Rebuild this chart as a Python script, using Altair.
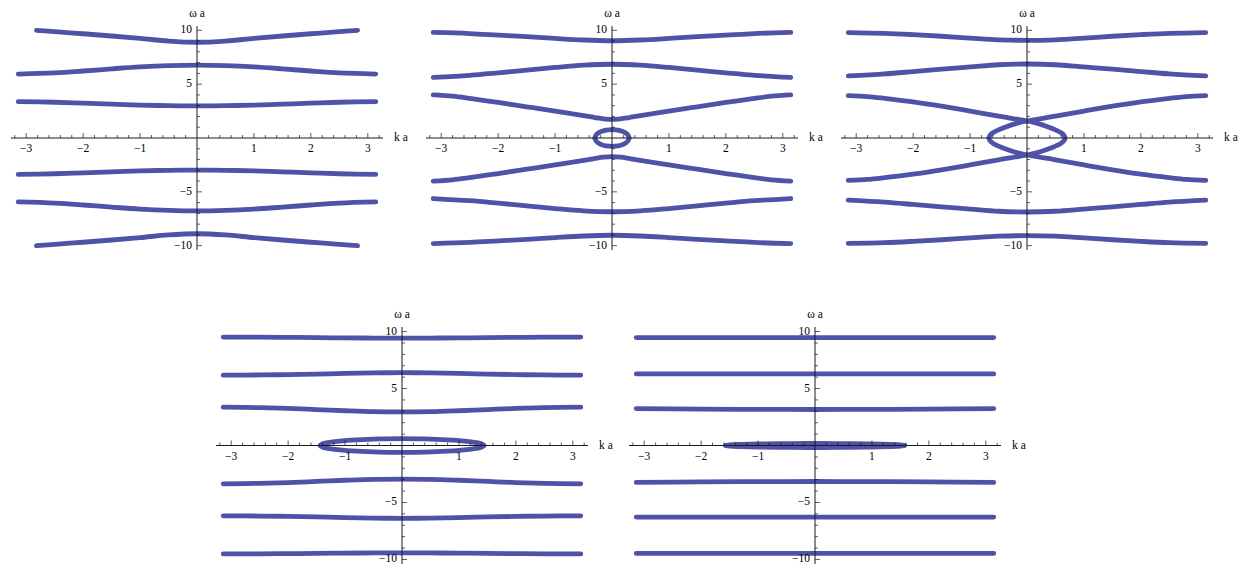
import altair as alt
import pandas as pd

FONT = "Liberation Serif"
LINE = "#4f53a8"
AXC = "#1a1a1a"
FS = 11.5
XR = 3.267
YR = 10.4

# ---------------- data ----------------
K13 = [-3.14, -2.5, -2.0, -1.5, -1.0, -0.5, 0.0, 0.5, 1.0, 1.5, 2.0, 2.5, 3.14]
K7 = [-3.14, -2.0, -1.0, 0.0, 1.0, 2.0, 3.14]

# Panel 1
p1_a_up = [3.38, 3.32, 3.23, 3.14, 3.05, 3.00, 2.98, 3.00, 3.05, 3.14, 3.23, 3.32, 3.38]
p1_a_dn = [-3.38, -3.32, -3.23, -3.14, -3.05, -3.00, -2.98, -3.00, -3.05, -3.14, -3.23, -3.32, -3.38]
p1_b_up = [5.94, 6.05, 6.22, 6.42, 6.60, 6.72, 6.77, 6.72, 6.60, 6.42, 6.22, 6.05, 5.94]
p1_b_dn = [-5.94, -6.05, -6.22, -6.42, -6.60, -6.72, -6.77, -6.72, -6.60, -6.42, -6.22, -6.05, -5.94]
p1_kc = [-2.82, -2.5, -2.0, -1.5, -1.0, -0.5, 0.0, 0.5, 1.0, 1.5, 2.0, 2.5, 2.82]
p1_c_up = [10.0, 9.87, 9.68, 9.47, 9.25, 9.00, 8.89, 9.00, 9.25, 9.47, 9.68, 9.87, 10.0]
p1_c_dn = [-10.0, -9.87, -9.68, -9.47, -9.25, -9.00, -8.89, -9.00, -9.25, -9.47, -9.68, -9.87, -10.0]

# Panel 2
p2_ka = [-3.14, -2.8, -2.5, -2.0, -1.5, -1.0, -0.5, -0.3, -0.15, 0.0,
         0.15, 0.3, 0.5, 1.0, 1.5, 2.0, 2.5, 2.8, 3.14]
p2_a_up = [4.00, 3.88, 3.68, 3.30, 2.90, 2.50, 2.08, 1.90, 1.78, 1.73,
           1.78, 1.90, 2.08, 2.50, 2.90, 3.30, 3.68, 3.88, 4.00]
p2_a_dn = [-4.00, -3.88, -3.68, -3.30, -2.90, -2.50, -2.08, -1.90, -1.78, -1.73,
           -1.78, -1.90, -2.08, -2.50, -2.90, -3.30, -3.68, -3.88, -4.00]
p2_b_up = [5.62, 5.82, 6.05, 6.30, 6.55, 6.76, 6.85, 6.76, 6.55, 6.30, 6.05, 5.82, 5.62]
p2_b_dn = [-5.62, -5.82, -6.05, -6.30, -6.55, -6.76, -6.85, -6.76, -6.55, -6.30, -6.05, -5.82, -5.62]
p2_c_up = [9.80, 9.70, 9.56, 9.42, 9.25, 9.10, 9.03, 9.10, 9.25, 9.42, 9.56, 9.70, 9.80]
p2_c_dn = [-9.80, -9.70, -9.56, -9.42, -9.25, -9.10, -9.03, -9.10, -9.25, -9.42, -9.56, -9.70, -9.80]
p2_kl = [-0.30, -0.28, -0.24, -0.18, -0.10, 0.0, 0.10, 0.18, 0.24, 0.28, 0.30]
p2_l_up = [0.0, 0.28, 0.47, 0.62, 0.74, 0.78, 0.74, 0.62, 0.47, 0.28, 0.0]
p2_l_dn = [0.0, -0.28, -0.47, -0.62, -0.74, -0.78, -0.74, -0.62, -0.47, -0.28, 0.0]

# Panel 3
p3_kr = [-3.14, -2.8, -2.5, -2.0, -1.5, -1.0, -0.5, 0.0, 0.2, 0.36, 0.5, 0.6, 0.65, 0.67,
         0.65, 0.6, 0.5, 0.36, 0.2, 0.0, -0.5, -1.0, -1.5, -2.0, -2.5, -2.8, -3.14]
p3_kl = [3.14, 2.8, 2.5, 2.0, 1.5, 1.0, 0.5, 0.0, -0.2, -0.36, -0.5, -0.6, -0.65, -0.67,
         -0.65, -0.6, -0.5, -0.36, -0.2, 0.0, 0.5, 1.0, 1.5, 2.0, 2.5, 2.8, 3.14]
p3_w = [3.94, 3.85, 3.68, 3.35, 2.95, 2.50, 2.03, 1.58, 1.33, 1.05, 0.76, 0.48, 0.25, 0.0,
        -0.25, -0.48, -0.76, -1.05, -1.33, -1.58, -2.03, -2.50, -2.95, -3.35, -3.68, -3.85, -3.94]
p3_b_up = [5.76, 5.95, 6.17, 6.40, 6.60, 6.80, 6.87, 6.80, 6.60, 6.40, 6.17, 5.95, 5.76]
p3_b_dn = [-5.76, -5.95, -6.17, -6.40, -6.60, -6.80, -6.87, -6.80, -6.60, -6.40, -6.17, -5.95, -5.76]
p3_c_up = [9.79, 9.72, 9.60, 9.45, 9.28, 9.12, 9.07, 9.12, 9.28, 9.45, 9.60, 9.72, 9.79]
p3_c_dn = [-9.79, -9.72, -9.60, -9.45, -9.28, -9.12, -9.07, -9.12, -9.28, -9.45, -9.60, -9.72, -9.79]

# Panel 4
p4_a_up = [3.36, 3.32, 3.25, 3.15, 3.05, 2.97, 2.95, 2.97, 3.05, 3.15, 3.25, 3.32, 3.36]
p4_a_dn = [-3.36, -3.32, -3.25, -3.15, -3.05, -2.97, -2.95, -2.97, -3.05, -3.15, -3.25, -3.32, -3.36]
p4_b_up = [6.17, 6.19, 6.22, 6.27, 6.33, 6.37, 6.39, 6.37, 6.33, 6.27, 6.22, 6.19, 6.17]
p4_b_dn = [-6.17, -6.19, -6.22, -6.27, -6.33, -6.37, -6.39, -6.37, -6.33, -6.27, -6.22, -6.19, -6.17]
p4_c_up = [9.52, 9.51, 9.49, 9.47, 9.44, 9.43, 9.42, 9.43, 9.44, 9.47, 9.49, 9.51, 9.52]
p4_c_dn = [-9.52, -9.51, -9.49, -9.47, -9.44, -9.43, -9.42, -9.43, -9.44, -9.47, -9.49, -9.51, -9.52]
p4_kl = [-1.44, -1.40, -1.30, -1.10, -0.80, -0.40, 0.0, 0.40, 0.80, 1.10, 1.30, 1.40, 1.44]
p4_l_up = [0.0, 0.14, 0.26, 0.39, 0.50, 0.58, 0.60, 0.58, 0.50, 0.39, 0.26, 0.14, 0.0]
p4_l_dn = [0.0, -0.14, -0.26, -0.39, -0.50, -0.58, -0.60, -0.58, -0.50, -0.39, -0.26, -0.14, 0.0]

# Panel 5
p5_a_up = [3.24, 3.20, 3.17, 3.16, 3.17, 3.20, 3.24]
p5_a_dn = [-3.24, -3.20, -3.17, -3.16, -3.17, -3.20, -3.24]
p5_b_up = [6.28, 6.28, 6.28, 6.28, 6.28, 6.28, 6.28]
p5_b_dn = [-6.28, -6.28, -6.28, -6.28, -6.28, -6.28, -6.28]
p5_c_up = [9.47, 9.47, 9.47, 9.47, 9.47, 9.47, 9.47]
p5_c_dn = [-9.47, -9.47, -9.47, -9.47, -9.47, -9.47, -9.47]
p5_kl = [-1.57, -1.50, -1.30, -0.90, -0.40, 0.0, 0.40, 0.90, 1.30, 1.50, 1.57]
p5_l_up = [0.0, 0.06, 0.10, 0.15, 0.17, 0.18, 0.17, 0.15, 0.10, 0.06, 0.0]
p5_l_dn = [0.0, -0.06, -0.10, -0.15, -0.17, -0.18, -0.17, -0.15, -0.10, -0.06, 0.0]

PANELS = {
    "p1": [("a+", K13, p1_a_up), ("a-", K13, p1_a_dn), ("b+", K13, p1_b_up),
           ("b-", K13, p1_b_dn), ("c+", p1_kc, p1_c_up), ("c-", p1_kc, p1_c_dn)],
    "p2": [("a+", p2_ka, p2_a_up), ("a-", p2_ka, p2_a_dn), ("b+", K13, p2_b_up),
           ("b-", K13, p2_b_dn), ("c+", K13, p2_c_up), ("c-", K13, p2_c_dn),
           ("l+", p2_kl, p2_l_up), ("l-", p2_kl, p2_l_dn)],
    "p3": [("r", p3_kr, p3_w), ("l", p3_kl, p3_w), ("b+", K13, p3_b_up),
           ("b-", K13, p3_b_dn), ("c+", K13, p3_c_up), ("c-", K13, p3_c_dn)],
    "p4": [("a+", K13, p4_a_up), ("a-", K13, p4_a_dn), ("b+", K13, p4_b_up),
           ("b-", K13, p4_b_dn), ("c+", K13, p4_c_up), ("c-", K13, p4_c_dn),
           ("l+", p4_kl, p4_l_up), ("l-", p4_kl, p4_l_dn)],
    "p5": [("a+", K7, p5_a_up), ("a-", K7, p5_a_dn), ("b+", K7, p5_b_up),
           ("b-", K7, p5_b_dn), ("c+", K7, p5_c_up), ("c-", K7, p5_c_dn),
           ("l+", p5_kl, p5_l_up), ("l-", p5_kl, p5_l_dn)],
}

X_MAJOR = [-3, -2, -1, 1, 2, 3]
X_LABELS = ["−3", "−2", "−1", "1", "2", "3"]
X_MINOR = [-3.2, -2.8, -2.6, -2.4, -2.2, -1.8, -1.6, -1.4, -1.2, -0.8, -0.6, -0.4, -0.2,
           0.2, 0.4, 0.6, 0.8, 1.2, 1.4, 1.6, 1.8, 2.2, 2.4, 2.6, 2.8, 3.2]
Y_MAJOR = [-10, -5, 5, 10]
Y_LABELS = ["−10", "−5", "5", "10"]
Y_MINOR = [-9, -8, -7, -6, -4, -3, -2, -1, 1, 2, 3, 4, 6, 7, 8, 9]

rows = []
for pid, curves in PANELS.items():
    for cname, ks, ws in curves:
        for i, (k, w) in enumerate(zip(ks, ws)):
            rows.append({"panel": pid, "curve": cname, "idx": i, "k": k, "w": w})
df = pd.DataFrame(rows)

one = pd.DataFrame({"z": [0]})
xmaj = pd.DataFrame({"t": X_MAJOR, "lab": X_LABELS})
xmin = pd.DataFrame({"t": X_MINOR})
ymaj = pd.DataFrame({"t": Y_MAJOR, "lab": Y_LABELS})
ymin = pd.DataFrame({"t": Y_MINOR})


def panel(pid, w, h):
    xs = alt.Scale(domain=[-XR, XR], nice=False, zero=False)
    ys = alt.Scale(domain=[-YR, YR], nice=False, zero=False)

    def X(f):
        return alt.X(f, type="quantitative", scale=xs, axis=None)

    def Y(f):
        return alt.Y(f, type="quantitative", scale=ys, axis=None)

    x0 = alt.XDatum(0, axis=None)
    y0 = alt.YDatum(0, axis=None)

    curves = alt.Chart(df[df.panel == pid]).mark_line(
        color=LINE, strokeWidth=4.8, strokeCap="round", strokeJoin="round",
        interpolate="catmull-rom"
    ).encode(x=X("k"), y=Y("w"), detail="curve:N", order="idx:Q")

    xaxis = alt.Chart(one).mark_rule(color=AXC, strokeWidth=1).encode(y=y0)
    yaxis = alt.Chart(one).mark_rule(color=AXC, strokeWidth=1).encode(x=x0)

    xt = alt.Chart(xmaj).mark_tick(orient="vertical", size=5, thickness=1,
                                   color=AXC, yOffset=-2.5).encode(x=X("t"), y=y0)
    xtm = alt.Chart(xmin).mark_tick(orient="vertical", size=3, thickness=1,
                                    color=AXC, yOffset=-1.5).encode(x=X("t"), y=y0)
    yt = alt.Chart(ymaj).mark_tick(orient="horizontal", size=5, thickness=1,
                                   color=AXC, xOffset=2.5).encode(y=Y("t"), x=x0)
    ytm = alt.Chart(ymin).mark_tick(orient="horizontal", size=3, thickness=1,
                                    color=AXC, xOffset=1.5).encode(y=Y("t"), x=x0)

    xl = alt.Chart(xmaj).mark_text(font=FONT, fontSize=FS, dy=11, baseline="middle",
                                   color="#000").encode(x=X("t"), y=y0, text="lab:N")
    yl = alt.Chart(ymaj).mark_text(font=FONT, fontSize=FS, dx=-5, align="right",
                                   baseline="middle", color="#000").encode(
        y=Y("t"), x=x0, text="lab:N")

    wt = alt.Chart(one).mark_text(font=FONT, fontSize=FS, baseline="middle",
                                  text="ω a", color="#000").encode(
        x=x0, y=alt.value(-12))
    kt = alt.Chart(one).mark_text(font=FONT, fontSize=FS, baseline="middle",
                                  align="left", text="k a", color="#000").encode(
        x=alt.value(w + 11), y=y0)

    return alt.layer(curves, xaxis, yaxis, xt, xtm, yt, ytm, xl, yl, wt, kt).properties(
        width=w, height=h)


top = alt.hconcat(panel("p1", 372, 224), panel("p2", 372, 224), panel("p3", 372, 224),
                  spacing=43, bounds="flush")

spacer = alt.Chart(one).mark_point(opacity=0).encode(
    x=alt.value(0), y=alt.value(0)).properties(width=164, height=237)

bottom = alt.hconcat(spacer, panel("p4", 372, 237), panel("p5", 372, 237),
                     spacing=41, bounds="flush")

chart = alt.vconcat(top, bottom, spacing=57).properties(
    padding=0).configure_view(stroke=None)

chart.save("out.html", embed_options={"renderer": "svg", "actions": False})
